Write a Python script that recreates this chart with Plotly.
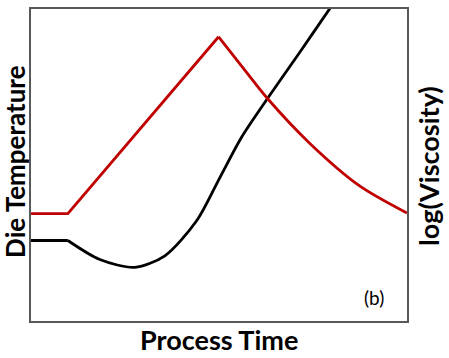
import plotly.graph_objects as go

# Process time (arbitrary units, 0-100)
red_time = [0, 9.8, 49.9, 55.5, 62.9, 74.1, 87.4, 100]
die_temperature = [34.4, 34.4, 91.1, 82.5, 71.3, 57.0, 43.3, 34.6]

black_time = [0, 9.8, 18.3, 27.6, 35.6, 44.1, 50.2, 56.0, 62.9, 71.4, 79.4, 83.4]
log_viscosity = [25.8, 25.8, 19.7, 17.2, 20.9, 32.2, 45.9, 58.9, 71.3, 86.0, 100, 107]

RED = "#C00000"
BORDER = "#595959"
FONT = "Lato"
LW = 2.8

fig = go.Figure()
# black: flat hold, then smooth curve
fig.add_trace(go.Scatter(x=black_time[:2], y=log_viscosity[:2], mode="lines",
                         line=dict(color="black", width=LW),
                         showlegend=False, hoverinfo="skip"))
fig.add_trace(go.Scatter(x=black_time[1:], y=log_viscosity[1:], mode="lines",
                         line=dict(color="black", width=LW, shape="spline", smoothing=0.8),
                         showlegend=False, hoverinfo="skip"))
# red: hold + linear ramp, then smooth decay
fig.add_trace(go.Scatter(x=red_time[:3], y=die_temperature[:3], mode="lines",
                         line=dict(color=RED, width=LW),
                         showlegend=False, hoverinfo="skip"))
fig.add_trace(go.Scatter(x=red_time[2:], y=die_temperature[2:], mode="lines",
                         line=dict(color=RED, width=LW, shape="spline", smoothing=0.8),
                         showlegend=False, hoverinfo="skip"))

axis_common = dict(showline=True, mirror=True, linecolor=BORDER, linewidth=2,
                   showgrid=False, zeroline=False, showticklabels=False, ticks="")
fig.update_xaxes(range=[0, 100], **axis_common)
fig.update_yaxes(range=[0, 100], **axis_common)

fig.update_layout(
    width=449, height=358,
    margin=dict(l=31, r=42, t=7, b=37),
    paper_bgcolor="white", plot_bgcolor="white",
    font=dict(family=FONT, color="black"),
    annotations=[
        dict(text="<b>Process Time</b>", xref="paper", yref="paper", x=0.501, y=0,
             xanchor="center", yanchor="middle", yshift=-18, showarrow=False,
             font=dict(size=27, family=FONT, color="black")),
        dict(text="<b>Die Temperature</b>", xref="paper", yref="paper", x=0, y=0.51,
             xanchor="center", yanchor="middle", xshift=-16, textangle=-90, showarrow=False,
             font=dict(size=26, family=FONT, color="black")),
        dict(text="<b>log(Viscosity)</b>", xref="paper", yref="paper", x=1, y=0.497,
             xanchor="center", yanchor="middle", xshift=22, textangle=-90, showarrow=False,
             font=dict(size=27, family=FONT, color="black")),
        dict(text="(b)", xref="paper", yref="paper", x=0.913, y=0.076,
             xanchor="center", yanchor="middle", showarrow=False,
             font=dict(size=19, family=FONT, color="black")),
    ],
)

fig.write_html("out.html", config={"displayModeBar": False})

# remove default page margin so the figure sits at the window's top-left corner
with open("out.html", "r", encoding="utf-8") as f:
    html = f.read()
html = html.replace("<head>", "<head><style>html,body{margin:0;padding:0;overflow:hidden;}</style>", 1)
with open("out.html", "w", encoding="utf-8") as f:
    f.write(html)
